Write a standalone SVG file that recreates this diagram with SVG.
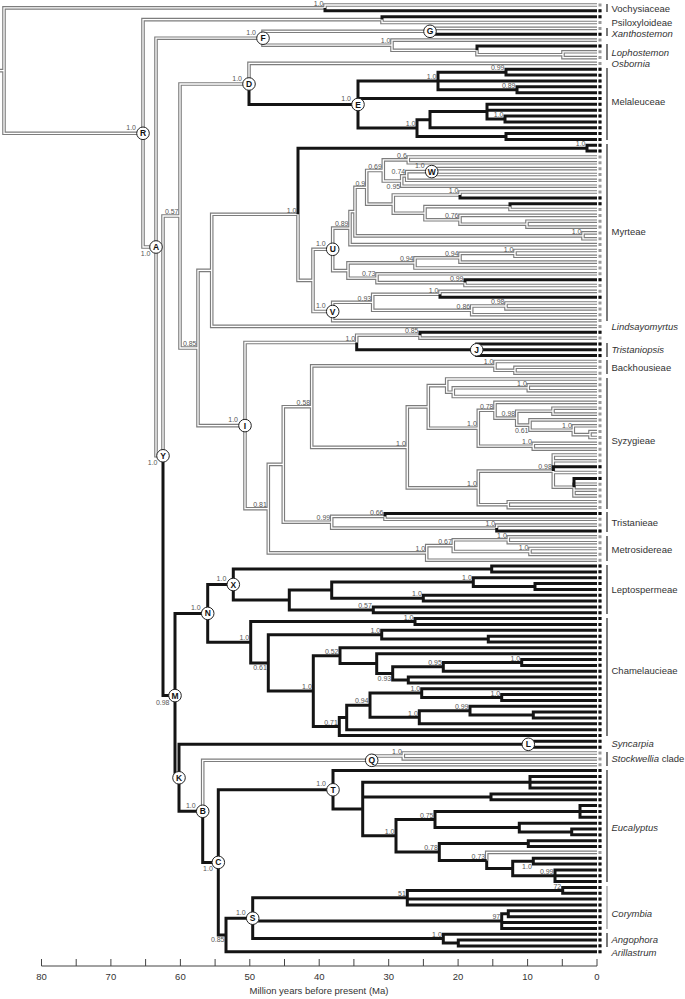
<svg xmlns="http://www.w3.org/2000/svg" xmlns:xlink="http://www.w3.org/1999/xlink" width="685" height="999" viewBox="0 0 685 999">
<style>
.gout{fill:none;stroke:#7d7d7d;stroke-width:3.6}
.gin{fill:none;stroke:#ffffff;stroke-width:1.3}
.blk{fill:none;stroke:#141414;stroke-width:3}
.nd circle{fill:#fff;stroke:#222;stroke-width:1}
.nd text{font-family:"Liberation Sans",Arial,sans-serif;font-size:8.5px;font-weight:bold;text-anchor:middle;fill:#111}
.pp{opacity:0.99}
.pp text{font-family:"Liberation Sans",Arial,sans-serif;font-size:7px;fill:#555;text-anchor:end}
.cl text{font-family:"Liberation Sans",Arial,sans-serif;font-size:9.5px;fill:#333}
.cl .it{font-style:italic}
.bar{stroke:#333;stroke-width:1.3}
.ax line{stroke:#444;stroke-width:1}
.ax text{font-family:"Liberation Sans",Arial,sans-serif;font-size:9.5px;fill:#333;text-anchor:middle}
</style>
<defs>
<g id="gray-tree">
<path d="M0 70.6H4M4 70.6V7.9H325M4 70.6V133.3H143M325 7.9V5H597"/>
<path d="M143 133.3V19.6H382M382 19.6V22.5H597M143 133.3V247H156"/>
<path d="M156 247V38.2H263M156 247V455.8H163M263 38.2V31.3H430M430 31.3V28.4H597M263 38.2V45.2H392M392 45.2V40.1H597M392 45.2V50.3H477M477 50.3V54.7H563M563 54.7V51.8H597M563 54.7V57.6H597"/>
<path d="M163 455.8V216H180M180 216V84H249M249 84V63.4H597M180 216V348H198M198 348V270.4H211.7M198 348V425.6H245M211.7 270.4V326.4H597M211.7 270.4V214.3H298M298 214.3V280.4H313"/>
<path d="M313 280.4V249.3H332.7M313 280.4V311.5H332.7M332.7 249.3V228.1H350M332.7 249.3V270.6H348M350 228.1V211.6H355M350 228.1V244.6H597M355 211.6V187.3H366.7M355 211.6V235.9H583M583 235.9V232.9H597M583 235.9V238.8H597M366.7 187.3V170.5H383.3M366.7 187.3V204.1H393.3M383.3 170.5V159.9H408.3M383.3 170.5V181H401.7M408.3 159.9V157H597M408.3 159.9V162.8H597M401.7 181V175.9H406.7M401.7 181V186.2H597M406.7 175.9V171.6H431.7M406.7 175.9V180.3H597M431.7 171.6V168.6H597M431.7 171.6V174.5H597M393.3 204.1V195H460M393.3 204.1V213.2H425M460 195V192H597M425 213.2V206.6H510M510 206.6V209.5H597M425 213.2V219.8H460M460 219.8V215.4H597M460 219.8V224.2H527M527 224.2V221.2H597M527 224.2V227.1H597"/>
<path d="M348 270.6V262.9H415M348 270.6V278.2H377M415 262.9V257.8H460M415 262.9V268H597M460 257.8V253.4H515M460 257.8V262.1H597M515 253.4V250.5H597M515 253.4V256.3H597M377 278.2V273.8H597M377 278.2V282.6H465M465 282.6V285.5H597M332.7 311.5V302.3H372.7M332.7 311.5V320.6H597M372.7 302.3V294.3H440M372.7 302.3V310.3H471.7M440 294.3V291.4H597M471.7 310.3V306H506M471.7 310.3V314.7H597M506 306V303H597M506 306V308.9H597"/>
<path d="M245 425.6V342.5H356.7M245 425.6V508.7H268.3M356.7 342.5V335.2H420M420 335.2V338.1H597M268.3 508.7V464.4H283.3M268.3 508.7V552.9H426.7M283.3 464.4V406.7H311.7M283.3 464.4V522.2H331.7M311.7 406.7V365.9H495M311.7 406.7V447.4H407.3M495 365.9V361.5H597M495 365.9V370.3H515M515 370.3V367.3H597M515 370.3V373.2H597"/>
<path d="M407.3 447.4V406.9H428.3M407.3 447.4V487.9H478.3M428.3 406.9V385.6H446.7M428.3 406.9V428.2H478.3M446.7 385.6V379H597M446.7 385.6V392.2H453.3M453.3 392.2V387.8H528.3M453.3 392.2V396.5H597M528.3 387.8V384.9H597M528.3 387.8V390.7H597M478.3 428.2V410.3H495M478.3 428.2V446.2H533.3M495 410.3V402.4H597M495 410.3V418.1H516.7M516.7 418.1V411.2H553M516.7 418.1V425.1H530M553 411.2V408.2H597M553 411.2V414.1H597M530 425.1V419.9H597M530 425.1V430.2H573.3M573.3 430.2V425.8H597M573.3 430.2V434.6H590M590 434.6V431.6H597M590 434.6V437.5H597M533.3 446.2V443.3H597M533.3 446.2V449.1H597"/>
<path d="M478.3 487.9V471.1H553.3M478.3 487.9V504.7H508.3M553.3 471.1V455H597M553.3 471.1V460.8H597M553.3 471.1V472.5H597M553.3 471.1V487.2H574M574 487.2V484.2H597M574 487.2V490.1H597M574 487.2V495.9H597M508.3 504.7V501.7H597M508.3 504.7V507.6H597"/>
<path d="M331.7 522.2V516.4H385M331.7 522.2V528.1H496.7M385 516.4V519.3H597M496.7 528.1V525.1H597M426.7 552.9V545.6H453.3M426.7 552.9V560.2H597M453.3 545.6V539.8H508.3M453.3 545.6V551.5H530M508.3 539.8V536.8H597M508.3 539.8V542.7H597M530 551.5V548.5H597M530 551.5V554.4H597"/>
<path d="M202.7 811.3V760.3H371.7M371.7 760.3V756H403.3M371.7 760.3V764.7H597M403.3 756V753H597M403.3 756V758.9H597M486.7 860.4V852.4H597"/>
</g>
</defs>
<g id="connectors">
<use xlink:href="#gray-tree" href="#gray-tree" class="gout"/>
<use xlink:href="#gray-tree" href="#gray-tree" class="gin"/>
<g id="black-branches" class="blk">
<path d="M325 7.9V10.8H597M382 19.6V16.7H597M430 31.3V34.2H597M477 50.3V45.9H597"/>
<path d="M249 84V104.5H358M358 104.5V81H438M358 104.5V98.5H597M358 104.5V128.1H417M438 81V72.2H506M438 81H597M438 81V89.8H517M506 72.2V69.3H597M506 72.2V75.1H597M517 89.8V86.8H597M517 89.8V92.7H597M417 128.1V119.7H430M417 128.1V136.5H506M430 119.7V111.6H487M430 119.7V127.7H597M487 111.6V104.3H597M487 111.6V110.2H597M487 111.6V119H505M505 119V116H597M505 119V121.9H597M506 136.5V133.6H597M506 136.5V139.4H597"/>
<path d="M298 214.3V148.2H587M587 148.2V145.3H597M587 148.2V151.1H597M460 195V197.9H597M510 206.6V203.7H597M465 282.6V279.7H597M440 294.3V297.2H597"/>
<path d="M420 335.2V332.3H597M356.7 342.5V349.8H476.7M476.7 349.8V343.9H597M476.7 349.8H597M476.7 349.8V355.6H597M553.3 471.1V466.7H597M574 487.2V478.4H597M385 516.4V513.4H597M496.7 528.1V531H597"/>
<path d="M163 455.8V695.6H175M175 695.6V613.4H207.7M175 695.6V777.8H179M207.7 613.4V584.5H233.3M207.7 613.4V642.2H250.7M233.3 584.5V569H491.7M233.3 584.5V600H289.3M491.7 569V566H597M491.7 569V571.9H597M289.3 600V590.1H331.7M289.3 600V609.9H373.3M331.7 590.1V582.1H473.3M331.7 590.1V598.2H423.3M473.3 582.1V577.7H597M473.3 582.1V586.5H535M535 586.5V583.6H597M535 586.5V589.4H597M423.3 598.2V595.2H597M423.3 598.2V601.1H597M373.3 609.9V606.9H597M373.3 609.9V612.8H597"/>
<path d="M250.7 642.2V621.6H415M250.7 642.2V662.9H268.3M415 621.6V618.6H597M415 621.6V624.5H597M268.3 662.9V634.7H381.7M268.3 662.9V691.1H313.3M381.7 634.7V630.3H597M381.7 634.7V639.1H488.3M488.3 639.1V636.2H597M488.3 639.1V642H597M313.3 691.1V655.7H340M313.3 691.1V726.5H339.3M340 655.7V647.8H597M340 655.7V663.6H376.7M376.7 663.6V653.7H597M376.7 663.6V673.4H392.7M392.7 673.4V666.8H443.3M392.7 673.4V680H408.3M443.3 666.8V662.5H521.7M443.3 666.8V671.2H597M521.7 662.5V659.5H597M521.7 662.5V665.4H597M408.3 680V677.1H597M408.3 680V682.9H597"/>
<path d="M339.3 726.5V717.5H346.7M339.3 726.5V735.5H597M346.7 717.5V705.2H370M346.7 717.5V729.7H597M370 705.2V693.1H421.7M370 705.2V717.3H419.3M421.7 693.1V688.7H597M421.7 693.1V697.5H501.7M501.7 697.5V694.6H597M501.7 697.5V700.4H597M419.3 717.3V710.7H470M419.3 717.3V723.8H597M470 710.7V706.3H597M470 710.7V715.1H533.3M533.3 715.1V712.1H597M533.3 715.1V718H597"/>
<path d="M179 777.8V744.3H528.3M179 777.8V811.3H202.7M528.3 744.3V741.3H597M528.3 744.3V747.2H597M202.7 811.3V862.4H218.3M218.3 862.4V789.8H333M218.3 862.4V934.9H226M333 789.8V770.6H597M333 789.8V809H362.7M362.7 809V782.3H530M362.7 809V796.9H491M362.7 809V835.8H396M530 782.3V776.4H597M530 782.3V782.2H597M530 782.3V788.1H597M491 796.9V793.9H597M491 796.9V799.8H597"/>
<path d="M396 835.8V819.5H435M396 835.8V852H439.3M435 819.5V811.5H580M435 819.5V827.6H519.3M580 811.5V805.6H597M580 811.5H597M580 811.5V817.3H597M519.3 827.6V823.2H597M519.3 827.6V831.9H571.7M571.7 831.9V829H597M571.7 831.9V834.8H597M439.3 852V843.6H528.3M439.3 852V860.4H486.7M528.3 843.6V840.7H597M528.3 843.6V846.5H597M486.7 860.4V868.5H512.7M512.7 868.5V861.2H533.3M512.7 868.5V875.8H555M533.3 861.2V858.2H597M533.3 861.2V864.1H597M555 875.8V869.9H597M555 875.8H597M555 875.8V881.6H597"/>
<path d="M226 934.9V918.2H252.7M226 934.9V951.7H597M252.7 918.2V897.7H407.3M252.7 918.2V921.1H501.7M252.7 918.2V938.6H443.3M407.3 897.7V890.4H562.7M407.3 897.7V899.1H597M407.3 897.7V905H597M562.7 890.4V887.4H597M562.7 890.4V893.3H597M501.7 921.1V913.8H508.3M501.7 921.1V922.5H597M501.7 921.1V928.4H597M508.3 913.8V910.8H597M508.3 913.8V916.7H597M443.3 938.6V934.2H597M443.3 938.6V943H458.3M458.3 943V940H597M458.3 943V945.9H597"/>
</g>
</g>
<g id="tip-markers">
<path d="M600 3.5V953.2" stroke="#9a9a9a" stroke-width="3" stroke-dasharray="3 2.844"/>
<path d="M600 9.3V12.3M600 15.2V18.2M600 32.7V35.7M600 44.4V47.4M600 67.8V152.6M600 196.4V205.2M600 278.2V281.2M600 295.7V298.7M600 330.8V333.8M600 342.4V357.1M600 465.2V468.2M600 476.9V479.9M600 511.9V514.9M600 529.5V532.5M600 564.5V748.7M600 769.1V848M600 856.7V953.2" stroke="#111" stroke-width="3" stroke-dasharray="3 2.844"/>
</g>
<g id="clade-labels" class="cl">
<path class="bar" d="M607 4V12M607 28V36M607 44V60M607 68V140M607 144V321M607 343V357M607 360V374M607 378V509M607 512V532M607 536V561M607 565V614M607 618V736M607 752V766M607 770V882M607 933V947"/>
<path d="M607 886V929" stroke="#999" stroke-width="1.3"/>
<text x="611.5" y="11.7">Vochysiaceae</text>
<text x="611.5" y="25.7">Psiloxyloideae</text>
<text x="611.5" y="36.7" class="it">Xanthostemon</text>
<text x="611.5" y="56" class="it">Lophostemon</text>
<text x="611.5" y="66.7" class="it">Osbornia</text>
<text x="611.5" y="105.4">Melaleuceae</text>
<text x="611.5" y="235">Myrteae</text>
<text x="611.5" y="330.4" class="it">Lindsayomyrtus</text>
<text x="611.5" y="353" class="it">Tristaniopsis</text>
<text x="611.5" y="370.7">Backhousieae</text>
<text x="611.5" y="444">Syzygieae</text>
<text x="611.5" y="525.7">Tristanieae</text>
<text x="611.5" y="553.4">Metrosidereae</text>
<text x="611.5" y="593.4">Leptospermeae</text>
<text x="611.5" y="674">Chamelaucieae</text>
<text x="611.5" y="746.7" class="it">Syncarpia</text>
<text x="611.5" y="761.7"><tspan font-style="italic">Stockwellia</tspan> clade</text>
<text x="611.5" y="831" class="it">Eucalyptus</text>
<text x="611.5" y="916.7" class="it">Corymbia</text>
<text x="611.5" y="943.4" class="it">Angophora</text>
<text x="611.5" y="955.7" class="it">Arillastrum</text>
</g>
<g id="support-values" class="pp">
<text x="323.5" y="6.1">1.0</text><text x="390.5" y="43.4">1.0</text><text x="436.5" y="79.2">1.0</text><text x="504.5" y="70.4">0.99</text><text x="515.5" y="88">0.89</text><text x="415.5" y="126.3">1.0</text><text x="503.5" y="117.2">1.0</text><text x="585.5" y="146.4">1.0</text>
<text x="178.5" y="214.2">0.57</text><text x="196.5" y="346.2">0.85</text><text x="296.5" y="212.5">1.0</text>
<text x="406.8" y="158.1">0.6</text><text x="381.8" y="168.7">0.69</text><text x="405.2" y="174.1">0.74</text><text x="365.2" y="185.5">0.9</text><text x="348.5" y="226.3">0.89</text><text x="458.5" y="193.2">1.0</text><text x="458.5" y="218">0.76</text><text x="581.5" y="234.1">1.0</text><text x="513.5" y="251.6">1.0</text><text x="458.5" y="256">0.94</text><text x="413.5" y="261.1">0.94</text><text x="375.5" y="276.4">0.73</text><text x="463.5" y="280.8">0.99</text><text x="438.5" y="292.5">1.0</text><text x="371.2" y="300.5">0.93</text><text x="470.2" y="308.5">0.86</text><text x="504.5" y="304.2">0.98</text><text x="400.2" y="188.5">0.95</text>
<text x="355.2" y="340.7">1.0</text><text x="418.5" y="333.4">0.85</text><text x="310.2" y="404.9">0.58</text><text x="405.8" y="445.6">1.0</text><text x="266.8" y="506.9">0.81</text><text x="330.2" y="520.4">0.99</text><text x="383.5" y="514.6">0.66</text><text x="425.2" y="551.1">1.0</text><text x="451.8" y="543.8">0.67</text><text x="506.8" y="538">1.0</text><text x="528.5" y="549.7">1.0</text><text x="495.2" y="526.3">1.0</text><text x="493.5" y="364.1">1.0</text><text x="526.8" y="386">1.0</text><text x="493.5" y="408.5">0.78</text><text x="515.2" y="416.3">0.98</text><text x="571.8" y="428.4">1.0</text><text x="476.8" y="426.4">1.0</text><text x="531.8" y="444.4">1.0</text><text x="476.8" y="486.1">1.0</text><text x="551.8" y="469.3">0.98</text><text x="528.5" y="432.6">0.61</text>
<text x="471.8" y="580.3">1.0</text><text x="421.8" y="596.4">1.0</text><text x="371.8" y="608.1">0.57</text><text x="249.2" y="640.4">1.0</text><text x="413.5" y="619.8">1.0</text><text x="380.2" y="632.9">1.0</text><text x="338.5" y="653.9">0.52</text><text x="441.8" y="665">0.95</text><text x="520.2" y="660.7">1.0</text><text x="311.8" y="689.3">1.0</text><text x="337.8" y="724.7">0.71</text><text x="368.5" y="703.4">0.94</text><text x="420.2" y="691.3">1.0</text><text x="500.2" y="695.7">1.0</text><text x="417.8" y="715.5">1.0</text><text x="468.5" y="708.9">0.99</text><text x="266.8" y="670.4">0.61</text><text x="391.2" y="680.9">0.93</text>
<text x="401.8" y="754.2">1.0</text><text x="394.5" y="834">1.0</text><text x="433.5" y="817.7">0.75</text><text x="437.8" y="850.2">0.78</text><text x="485.2" y="858.6">0.73</text><text x="553.5" y="874">0.99</text><text x="531.8" y="868.7">1.0</text><text x="561.2" y="888.6">72</text><text x="405.8" y="895.9">51</text><text x="500.2" y="919.3">97</text><text x="441.8" y="936.8">1.0</text><text x="224.5" y="942.4">0.85</text>
<text x="136" y="129.8">1.0</text><text x="256" y="34.7">1.0</text><text x="242" y="80.5">1.0</text><text x="351" y="101">1.0</text><text x="424.7" y="168.1">1.0</text><text x="325.7" y="245.8">1.0</text><text x="325.7" y="308">1.0</text><text x="238" y="422.1">1.0</text><text x="226.3" y="581">1.0</text><text x="200.7" y="609.9">1.0</text><text x="195.7" y="807.8">1.0</text><text x="326" y="786.3">1.0</text><text x="245.7" y="914.7">1.0</text>
<text x="150.5" y="256">1.0</text><text x="157.5" y="464.8">1.0</text><text x="169.5" y="704.6">0.98</text><text x="212.8" y="871.4">1.0</text>
</g>
<g id="nodes">
<g id="node-R" class="nd"><circle cx="143" cy="133.3" r="6.3"/><text x="143" y="136.3">R</text></g>
<g id="node-A" class="nd"><circle cx="156" cy="247" r="6.3"/><text x="156" y="250">A</text></g>
<g id="node-Y" class="nd"><circle cx="163" cy="455.8" r="6.3"/><text x="163" y="458.8">Y</text></g>
<g id="node-F" class="nd"><circle cx="263" cy="38.2" r="6.3"/><text x="263" y="41.2">F</text></g>
<g id="node-G" class="nd"><circle cx="430" cy="31.3" r="6.3"/><text x="430" y="34.3">G</text></g>
<g id="node-D" class="nd"><circle cx="249" cy="84" r="6.3"/><text x="249" y="87">D</text></g>
<g id="node-E" class="nd"><circle cx="358" cy="104.5" r="6.3"/><text x="358" y="107.5">E</text></g>
<g id="node-W" class="nd"><circle cx="431.7" cy="171.6" r="6.3"/><text x="431.7" y="174.6">W</text></g>
<g id="node-U" class="nd"><circle cx="332.7" cy="249.3" r="6.3"/><text x="332.7" y="252.3">U</text></g>
<g id="node-V" class="nd"><circle cx="332.7" cy="311.5" r="6.3"/><text x="332.7" y="314.5">V</text></g>
<g id="node-I" class="nd"><circle cx="245" cy="425.6" r="6.3"/><text x="245" y="428.6">I</text></g>
<g id="node-J" class="nd"><circle cx="476.7" cy="349.8" r="6.3"/><text x="476.7" y="352.8">J</text></g>
<g id="node-X" class="nd"><circle cx="233.3" cy="584.5" r="6.3"/><text x="233.3" y="587.5">X</text></g>
<g id="node-N" class="nd"><circle cx="207.7" cy="613.4" r="6.3"/><text x="207.7" y="616.4">N</text></g>
<g id="node-M" class="nd"><circle cx="175" cy="695.6" r="6.3"/><text x="175" y="698.6">M</text></g>
<g id="node-K" class="nd"><circle cx="179" cy="777.8" r="6.3"/><text x="179" y="780.8">K</text></g>
<g id="node-L" class="nd"><circle cx="528.3" cy="744.3" r="6.3"/><text x="528.3" y="747.3">L</text></g>
<g id="node-Q" class="nd"><circle cx="371.7" cy="760.3" r="6.3"/><text x="371.7" y="763.3">Q</text></g>
<g id="node-B" class="nd"><circle cx="202.7" cy="811.3" r="6.3"/><text x="202.7" y="814.3">B</text></g>
<g id="node-T" class="nd"><circle cx="333" cy="789.8" r="6.3"/><text x="333" y="792.8">T</text></g>
<g id="node-C" class="nd"><circle cx="218.3" cy="862.4" r="6.3"/><text x="218.3" y="865.4">C</text></g>
<g id="node-S" class="nd"><circle cx="252.7" cy="918.2" r="6.3"/><text x="252.7" y="921.2">S</text></g>
</g>
<g id="axis" class="ax">
<line x1="41.5" y1="966" x2="597" y2="966"/>
<path d="M41.5 959V966M76.2 959V966M110.9 959V966M145.6 959V966M180.4 959V966M215.1 959V966M249.8 959V966M284.5 959V966M319.2 959V966M353.9 959V966M388.7 959V966M423.4 959V966M458.1 959V966M492.8 959V966M527.6 959V966M562.3 959V966M597 959V966" stroke="#444" stroke-width="1"/>
<text x="41.5" y="980">80</text><text x="110.9" y="980">70</text><text x="180.4" y="980">60</text><text x="249.8" y="980">50</text><text x="319.2" y="980">40</text><text x="388.7" y="980">30</text><text x="458.1" y="980">20</text><text x="527.6" y="980">10</text><text x="597" y="980">0</text>
<text x="319" y="994">Million years before present (Ma)</text>
</g>
</svg>
